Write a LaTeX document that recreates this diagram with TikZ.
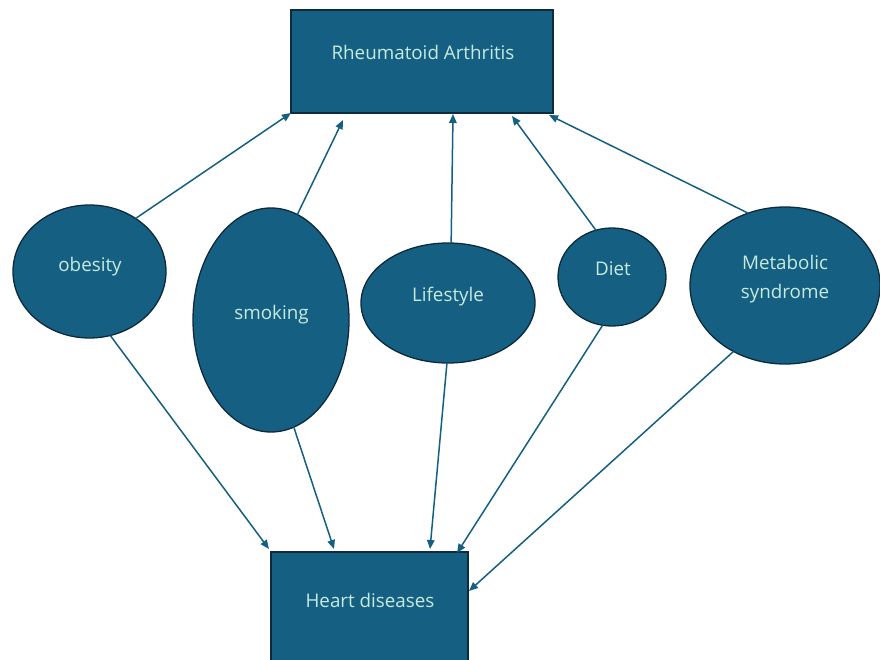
\documentclass[tikz,border=0pt]{standalone}
\usepackage{fontspec}
\setmainfont{Open Sans}
\usetikzlibrary{shapes.geometric,arrows.meta,calc}
\definecolor{fillblue}{HTML}{156082}
\definecolor{edgeblue}{HTML}{0E2B3C}
\definecolor{txtmint}{HTML}{C6EBDD}
\begin{document}
\begin{tikzpicture}[x=1pt,y=-1pt,
  box/.style={draw=edgeblue,fill=fillblue,line width=1.4pt,rectangle,inner sep=0pt,outer sep=0pt},
  oval/.style={draw=edgeblue,fill=fillblue,line width=1.3pt,ellipse,inner sep=0pt,outer sep=0pt},
  lbl/.style={text=txtmint,font=\fontsize{18.8}{29}\selectfont,anchor=base,inner sep=0pt},
  conn/.style={draw=fillblue,line width=1.5pt,-{Triangle[length=9pt,width=7.5pt]}}]
\useasboundingbox (0,0) rectangle (880,660);
\fill[white] (0,0) rectangle (880,660);
% boxes
\node[box,minimum width=262pt,minimum height=103pt] (ra) at (422,61.5) {};
\node[lbl] (ratxt) at (423,60) {Rheumatoid Arthritis};
\node[box,minimum width=197pt,minimum height=113pt] (hd) at (369.5,608.5) {};
\node[lbl] (hdtxt) at (370,607) {Heart diseases};
% ellipses
\node[oval,minimum width=153pt,minimum height=133pt] (ob) at (89.5,271.5) {};
\node[lbl] (obtxt) at (90,271) {obesity};
\node[oval,minimum width=156pt,minimum height=224pt] (sm) at (271,320) {};
\node[lbl] (smtxt) at (271.5,319) {smoking};
\node[oval,minimum width=174pt,minimum height=120pt] (ls) at (448,303) {};
\node[lbl] (lstxt) at (448,301) {Lifestyle};
\node[oval,minimum width=108pt,minimum height=98pt] (di) at (612,277) {};
\node[lbl] (ditxt) at (613,275) {Diet};
\node[oval,minimum width=190pt,minimum height=157pt] (ms) at (785,285.5) {};
\node[lbl,align=center,anchor=center] (mstxt) at (785,279) {Metabolic\\syndrome};
% arrow ends
\coordinate (ra1) at (ra.south west);
\coordinate (ra2) at ([xshift=52pt,yshift=-7pt]ra.south west);
\coordinate (ra3) at ([xshift=31pt,yshift=-1pt]ra.south);
\coordinate (ra4) at ([xshift=-41pt,yshift=-3pt]ra.south east);
\coordinate (ra5) at ([xshift=-4pt,yshift=-2pt]ra.south east);
\coordinate (hd1) at ([xshift=-2pt,yshift=3pt]hd.north west);
\coordinate (hd2) at ([xshift=63pt,yshift=3pt]hd.north west);
\coordinate (hd3) at ([xshift=-38pt,yshift=3pt]hd.north east);
\coordinate (hd4) at ([xshift=-11pt,yshift=-1pt]hd.north east);
\coordinate (hd5) at ([xshift=1pt,yshift=-39pt]hd.north east);
% connectors
\draw[conn] (ob.49) -- (ra1);
\draw[conn] (sm.76) -- (ra2);
\draw[conn] (ls.87) -- (ra3);
\draw[conn] (di.109) -- (ra4);
\draw[conn] (ms.117) -- (ra5);
\draw[conn] (ob.288) -- (hd1);
\draw[conn] (sm.282) -- (hd2);
\draw[conn] (ls.269) -- (hd3);
\draw[conn] (di.259) -- (hd4);
\draw[conn] (ms.232) -- (hd5);
\end{tikzpicture}
\end{document}
